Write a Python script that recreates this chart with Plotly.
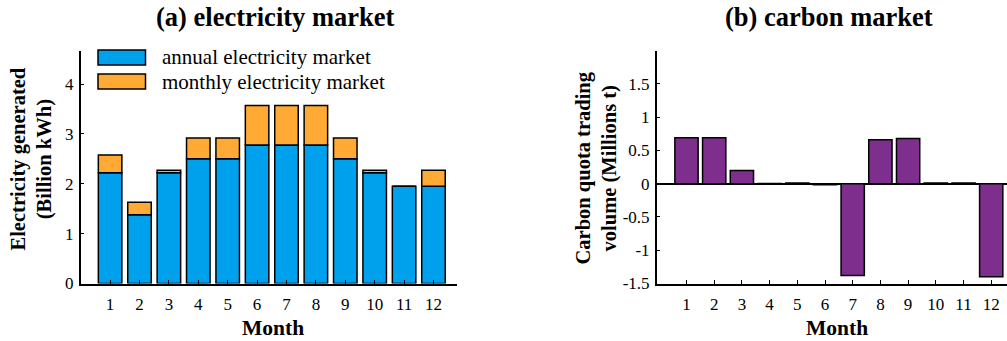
import plotly.graph_objects as go

months = list(range(1, 13))
month_labels = [str(m) for m in months]
annual = [2.22, 1.38, 2.22, 2.50, 2.50, 2.78, 2.78, 2.78, 2.50, 2.22, 1.95, 1.95]
monthly = [0.36, 0.25, 0.05, 0.42, 0.42, 0.79, 0.79, 0.79, 0.42, 0.05, 0.0, 0.32]
carbon = [0.69, 0.69, 0.20, 0.005, 0.01, -0.015, -1.38, 0.66, 0.68, 0.01, 0.01, -1.40]

left_yticks = [0, 1, 2, 3, 4]
left_yticktext = ["0", "1", "2", "3", "4"]
right_yticks = [-1.5, -1, -0.5, 0, 0.5, 1, 1.5]
right_yticktext = ["-1.5", "-1", "-0.5", "0", "0.5", "1", "1.5"]

BLUE = "#00A1EC"
ORANGE = "#FFAA35"
PURPLE = "#7E2F8E"
FONT = "Liberation Serif"
W, H = 1007, 341

def px(x):
    return x / W

def py(y):
    return 1 - y / H

fig = go.Figure()
fig.add_trace(go.Bar(x=months, y=annual, marker=dict(color=BLUE, line=dict(color="black", width=1.5)),
                     width=0.8, xaxis="x", yaxis="y", name="annual electricity market", showlegend=False))
fig.add_trace(go.Bar(x=months, y=monthly, marker=dict(color=ORANGE, line=dict(color="black", width=1.5)),
                     width=0.8, xaxis="x", yaxis="y", name="monthly electricity market", showlegend=False))
fig.add_trace(go.Bar(x=months, y=carbon, marker=dict(color=PURPLE, line=dict(color="black", width=1.5)),
                     width=0.84, xaxis="x2", yaxis="y2", showlegend=False))

ydom = [py(283.5), py(50.7)]
axis_common = dict(showline=True, linecolor="black", linewidth=1.5, ticks="inside", ticklen=4,
                   tickcolor="black", tickwidth=1.2, showgrid=False, mirror=False, automargin=False,
                   tickfont=dict(family=FONT, size=17, color="black"))

fig.update_layout(
    width=W, height=H, margin=dict(l=0, r=0, t=0, b=0, autoexpand=False),
    paper_bgcolor="white", plot_bgcolor="white", barmode="relative", showlegend=False,
    xaxis=dict(domain=[px(80.7), px(456.7)], range=[0, 12.79], tickvals=months, ticktext=month_labels,
               anchor="y", zeroline=False, ticklabelstandoff=4, **axis_common),
    yaxis=dict(domain=ydom, range=[0, 4.67], tickvals=left_yticks, ticktext=left_yticktext,
               anchor="x", zeroline=False, ticklabelstandoff=2, **axis_common),
    xaxis2=dict(domain=[px(656.7), 1.0], range=[-0.076, 12.57], tickvals=months, ticktext=month_labels,
                anchor="y2", zeroline=False, ticklabelstandoff=4, **axis_common),
    yaxis2=dict(domain=ydom, range=[-1.5, 2.0], tickvals=right_yticks, ticktext=right_yticktext,
                anchor="x2", zeroline=True, zerolinecolor="black", zerolinewidth=1.5,
                ticklabelstandoff=2, **axis_common),
)

ann = []
ann.append(dict(text="<b>(a) electricity market</b>", x=px(275), y=py(17), xref="paper", yref="paper",
                showarrow=False, font=dict(family=FONT, size=26.5, color="black"), xanchor="center", yanchor="middle"))
ann.append(dict(text="<b>(b) carbon market</b>", x=px(829), y=py(17), xref="paper", yref="paper",
                showarrow=False, font=dict(family=FONT, size=26.5, color="black"), xanchor="center", yanchor="middle"))
ann.append(dict(text="<b>Month</b>", x=px(273), y=py(328), xref="paper", yref="paper",
                showarrow=False, font=dict(family=FONT, size=21.5, color="black"), xanchor="center", yanchor="middle"))
ann.append(dict(text="<b>Month</b>", x=px(837), y=py(328), xref="paper", yref="paper",
                showarrow=False, font=dict(family=FONT, size=21.5, color="black"), xanchor="center", yanchor="middle"))
ann.append(dict(text="<b>Electricity generated<br>(Billion kWh)</b>", x=px(31.5), y=py(159), xref="paper", yref="paper",
                showarrow=False, textangle=-90, font=dict(family=FONT, size=20.5, color="black"),
                xanchor="center", yanchor="middle"))
ann.append(dict(text="<b>Carbon quota trading<br>volume (Millions t)</b>", x=px(596.5), y=py(168), xref="paper", yref="paper",
                showarrow=False, textangle=-90, font=dict(family=FONT, size=20.5, color="black"),
                xanchor="center", yanchor="middle"))

# custom legend
legend_items = [("annual electricity market", BLUE, 57.5), ("monthly electricity market", ORANGE, 81.5)]
shapes = []
for label, col, yc in legend_items:
    shapes.append(dict(type="rect", xref="paper", yref="paper", x0=px(98), x1=px(145.5),
                       y0=py(yc + 7.5), y1=py(yc - 7.5), fillcolor=col, line=dict(color="black", width=1.5)))
    ann.append(dict(text=label, x=px(160), y=py(yc), xref="paper", yref="paper", showarrow=False,
                    font=dict(family=FONT, size=21, color="black"), xanchor="left", yanchor="middle"))

fig.update_layout(annotations=ann, shapes=shapes)
fig.write_html("out.html")
